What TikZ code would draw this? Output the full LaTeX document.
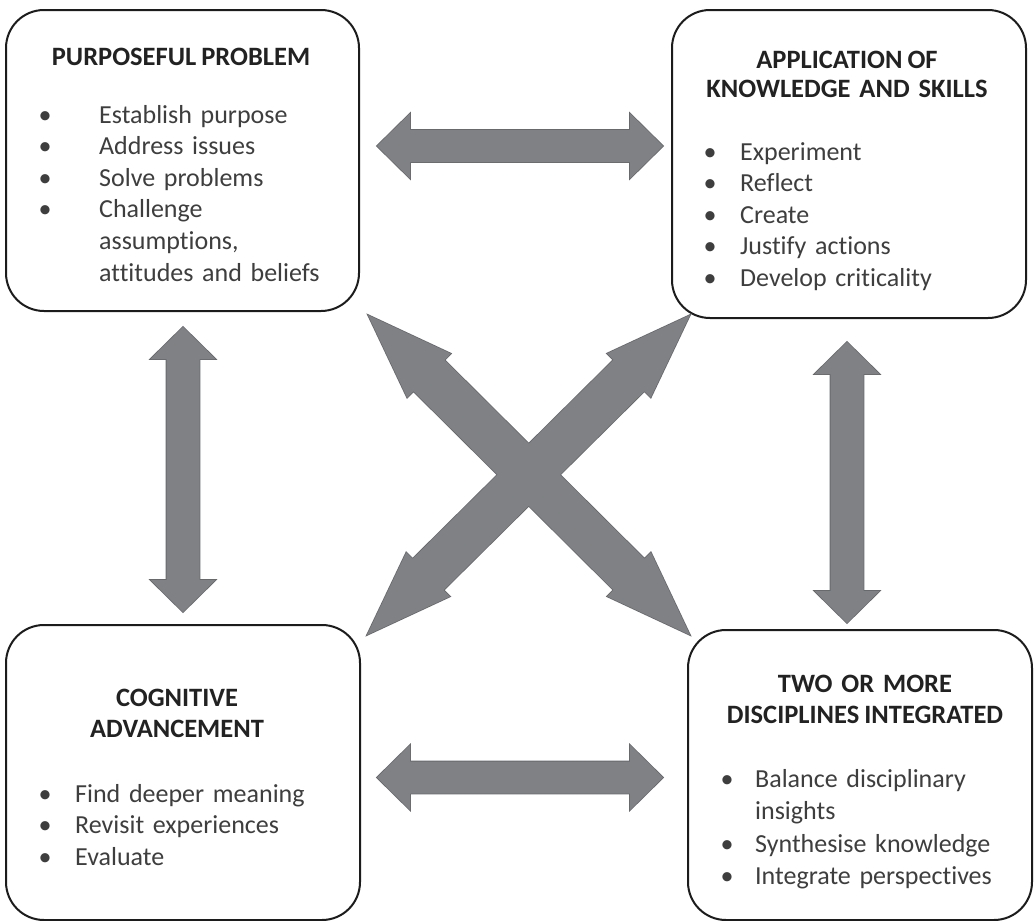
\documentclass[tikz,border=0pt]{standalone}
\usepackage{fontspec}
\setmainfont{Carlito}[Ligatures=NoCommon]
\usetikzlibrary{calc}

\definecolor{arrowfill}{RGB}{128,129,133}
\definecolor{arrowedge}{RGB}{104,105,109}
\definecolor{boxline}{RGB}{28,28,28}
\definecolor{bodytext}{RGB}{62,62,62}
\definecolor{headtext}{RGB}{34,34,34}

% bullet line: bullet in a box of width #1, then the item text
\newcommand\bl[2]{\makebox[#1][l]{\textbullet}#2}
% continuation line of an item, indented to the item text
\newcommand\cont[2]{\hspace*{#1}#2}
% narrow word gap used in the tighter headings
\newcommand\tgap{\hspace{5pt}}

% double-headed block arrow between tips #2 and #3
% #1 style, #4 head length, #5 head half width, #6 shaft half width
\newcommand\barrow[6]{%
  \path[#1] (#2)
    -- ($(#2)!#4!(#3)!#5!90:(#3)$)
    -- ($(#2)!#4!(#3)!#6!90:(#3)$)
    -- ($(#3)!#4!(#2)!#6!-90:(#2)$)
    -- ($(#3)!#4!(#2)!#5!-90:(#2)$)
    -- (#3)
    -- ($(#3)!#4!(#2)!#5!90:(#2)$)
    -- ($(#3)!#4!(#2)!#6!90:(#2)$)
    -- ($(#2)!#4!(#3)!#6!-90:(#3)$)
    -- ($(#2)!#4!(#3)!#5!-90:(#3)$)
    -- cycle;}

\tikzset{
  box/.style={draw=boxline, line width=2pt, rounded corners=38pt,
    inner sep=0pt, fill=white},
  headline/.style={font=\fontsize{26.5}{29.5}\selectfont\bfseries, text=headtext,
    inner sep=0pt, text width=340pt, align=center, anchor=base},
  itemlist/.style={font=\fontsize{26}{31.6}\selectfont, text=bodytext,
    inner sep=0pt, text width=320pt, align=left, anchor=base west},
  arrowline/.style={draw=arrowedge, line width=1.6pt, line join=miter},
  arrowbody/.style={fill=arrowfill},
}

\begin{document}
\begin{tikzpicture}[x=1pt, y=-1pt]
  \fill[white] (0,0) rectangle (1034,921);
  \useasboundingbox (0,0) rectangle (1034,921);

  % the four boxes
  \node[box, minimum width=353pt, minimum height=301pt] (pp) at (182.5,160.5) {};
  \node[box, minimum width=354pt, minimum height=308pt] (ak) at (849,164) {};
  \node[box, minimum width=354pt, minimum height=295pt] (ca) at (183,772.5) {};
  \node[box, minimum width=344pt, minimum height=290pt] (td) at (860,775) {};

  % purposeful problem
  \node[headline] (ppT) at (181,65) {PURPOSEFUL\tgap PROBLEM};
  \node[itemlist] (ppL) at (38.5,123) {%
    \bl{60.5pt}{Establish purpose}\\
    \bl{60.5pt}{Address issues}\\
    \bl{60.5pt}{Solve problems}\\
    \bl{60.5pt}{Challenge}\\
    \cont{60.5pt}{assumptions,}\\
    \cont{60.5pt}{attitudes and beliefs}};

  % application of knowledge and skills
  \node[headline] (akT) at (847,68) {APPLICATION\tgap OF\\KNOWLEDGE AND SKILLS};
  \node[itemlist] (akL) at (703.5,160) {%
    \bl{36.5pt}{Experiment}\\
    \bl{36.5pt}{Reflect}\\
    \bl{36.5pt}{Create}\\
    \bl{36.5pt}{Justify actions}\\
    \bl{36.5pt}{Develop criticality}};

  % cognitive advancement
  \node[headline, font=\fontsize{26.5}{31}\selectfont\bfseries] (caT) at (177,706)
    {COGNITIVE\\ADVANCEMENT};
  \node[itemlist] (caL) at (38.5,802) {%
    \bl{36.5pt}{Find deeper meaning}\\
    \bl{36.5pt}{Revisit experiences}\\
    \bl{36.5pt}{Evaluate}};

  % two or more disciplines integrated
  \node[headline, font=\fontsize{26.5}{31.5}\selectfont\bfseries] (tdT) at (865,692)
    {TWO OR MORE\\DISCIPLINES\tgap INTEGRATED};
  \node[itemlist, font=\fontsize{26}{32.6}\selectfont] (tdL) at (720.5,787) {%
    \bl{34.5pt}{Balance disciplinary}\\
    \cont{34.5pt}{insights}\\
    \bl{34.5pt}{Synthesise knowledge}\\
    \bl{34.5pt}{Integrate perspectives}};

  % arrow tips
  \coordinate (topL) at (377,146);
  \coordinate (topR) at (663,146);
  \coordinate (botL) at (377,777.5);
  \coordinate (botR) at (663,777.5);
  \coordinate (lefT) at (183,327);
  \coordinate (lefB) at (183,612);
  \coordinate (rigT) at (847,342);
  \coordinate (rigB) at (847,623);
  \coordinate (dgTL) at (368,315);
  \coordinate (dgBR) at (690,635);
  \coordinate (dgTR) at (690,315);
  \coordinate (dgBL) at (367,635);

  % outlines first, bodies on top so the crossing stays clean
  \barrow{arrowline}{topL}{topR}{33pt}{32.5pt}{16pt}
  \barrow{arrowline}{botL}{botR}{33pt}{32.5pt}{16pt}
  \barrow{arrowline}{lefT}{lefB}{32pt}{32.5pt}{16.5pt}
  \barrow{arrowline}{rigT}{rigB}{32pt}{32.5pt}{16.5pt}
  \barrow{arrowline}{dgTL}{dgBR}{86pt}{31pt}{22pt}
  \barrow{arrowline}{dgTR}{dgBL}{86pt}{31pt}{22pt}

  \barrow{arrowbody}{topL}{topR}{33pt}{32.5pt}{16pt}
  \barrow{arrowbody}{botL}{botR}{33pt}{32.5pt}{16pt}
  \barrow{arrowbody}{lefT}{lefB}{32pt}{32.5pt}{16.5pt}
  \barrow{arrowbody}{rigT}{rigB}{32pt}{32.5pt}{16.5pt}
  \barrow{arrowbody}{dgTL}{dgBR}{86pt}{31pt}{22pt}
  \barrow{arrowbody}{dgTR}{dgBL}{86pt}{31pt}{22pt}
\end{tikzpicture}
\end{document}
